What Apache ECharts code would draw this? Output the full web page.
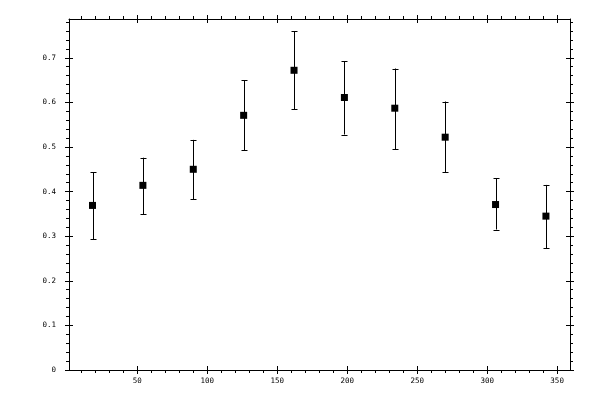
<!DOCTYPE html>
<html lang="en">
<head>
    <meta charset="UTF-8">
    <title>Error bars</title>
    <style>
        html, body { margin: 0; padding: 0; background: #fff; }
        #chart { width: 600px; height: 400px; }
    </style>
</head>
<body>
    <div id="chart"></div>
    <script src="https://cdn.jsdelivr.net/npm/echarts@6/dist/echarts.min.js"></script>
    <script>
        // data
        var xs    = [18, 54, 90, 126, 162, 198, 234, 270, 306, 342];
        var means = [0.369, 0.414, 0.450, 0.571, 0.672, 0.611, 0.587, 0.522, 0.371, 0.345];
        var lows  = [0.293, 0.349, 0.383, 0.493, 0.585, 0.528, 0.495, 0.444, 0.315, 0.273];
        var highs = [0.443, 0.476, 0.516, 0.650, 0.759, 0.692, 0.676, 0.602, 0.430, 0.415];

        var xTicks = [50, 100, 150, 200, 250, 300, 350];
        var yTicks = [0, 0.1, 0.2, 0.3, 0.4, 0.5, 0.6, 0.7];

        var chart = echarts.init(document.getElementById('chart'));

        var black = { color: '#000', width: 1 };
        var labelFont = { fontFamily: 'DejaVu Sans Mono', fontSize: 7.5, color: '#000' };

        // one axis per side and tick direction, so major ticks cross the frame
        function xAxisFor(pos, inside, withLabels) {
            return {
                type: 'value', position: pos, min: 1.2, max: 359.2, splitNumber: 7,
                axisLine: { show: !inside, onZero: false, lineStyle: black },
                axisTick: { show: true, inside: inside, length: 4, customValues: xTicks, lineStyle: black },
                minorTick: { show: !inside, splitNumber: 5, length: 3, lineStyle: black },
                axisLabel: Object.assign({ show: withLabels, customValues: xTicks, margin: 7 }, labelFont),
                splitLine: { show: false }
            };
        }
        function yAxisFor(pos, inside, withLabels) {
            return {
                type: 'value', position: pos, min: 0, max: 0.787, interval: 0.1,
                axisLine: { show: !inside, onZero: false, lineStyle: black },
                axisTick: { show: true, inside: inside, length: 4, customValues: yTicks, lineStyle: black },
                minorTick: { show: !inside, splitNumber: 5, length: 3, lineStyle: black },
                axisLabel: Object.assign({ show: withLabels, customValues: yTicks, margin: 13 }, labelFont),
                splitLine: { show: false }
            };
        }

        var points = xs.map(function (x, i) { return [x, means[i]]; });
        var bars = xs.map(function (x, i) { return [x, lows[i], highs[i]]; });

        var option = {
            animation: false,
            backgroundColor: '#fff',
            grid: { left: 69, right: 30, top: 19, bottom: 30, containLabel: false, outerBoundsMode: 'none' },
            xAxis: [
                xAxisFor('bottom', false, true),
                xAxisFor('bottom', true, false),
                xAxisFor('top', false, false),
                xAxisFor('top', true, false)
            ],
            yAxis: [
                yAxisFor('left', false, true),
                yAxisFor('left', true, false),
                yAxisFor('right', false, false),
                yAxisFor('right', true, false)
            ],
            series: [
                {
                    type: 'custom',
                    xAxisIndex: 0,
                    yAxisIndex: 0,
                    encode: { x: 0, y: [1, 2] },
                    data: bars,
                    renderItem: function (params, api) {
                        var lo = api.coord([api.value(0), api.value(1)]);
                        var hi = api.coord([api.value(0), api.value(2)]);
                        var cx = Math.round(lo[0]) + 0.5; // crisp 1px line
                        var half = 3;
                        var st = { stroke: '#000', lineWidth: 1 };
                        return {
                            type: 'group',
                            children: [
                                { type: 'line', shape: { x1: cx, y1: hi[1], x2: cx, y2: lo[1] }, style: st },
                                { type: 'line', shape: { x1: cx - half, y1: Math.round(hi[1]) + 0.5, x2: cx + half, y2: Math.round(hi[1]) + 0.5 }, style: st },
                                { type: 'line', shape: { x1: cx - half, y1: Math.round(lo[1]) + 0.5, x2: cx + half, y2: Math.round(lo[1]) + 0.5 }, style: st }
                            ]
                        };
                    },
                    z: 2
                },
                {
                    type: 'scatter',
                    xAxisIndex: 0,
                    yAxisIndex: 0,
                    symbol: 'rect',
                    symbolSize: 7,
                    itemStyle: { color: '#000', opacity: 1 },
                    data: points,
                    z: 3
                }
            ]
        };
        chart.setOption(option);
    </script>
</body>
</html>
